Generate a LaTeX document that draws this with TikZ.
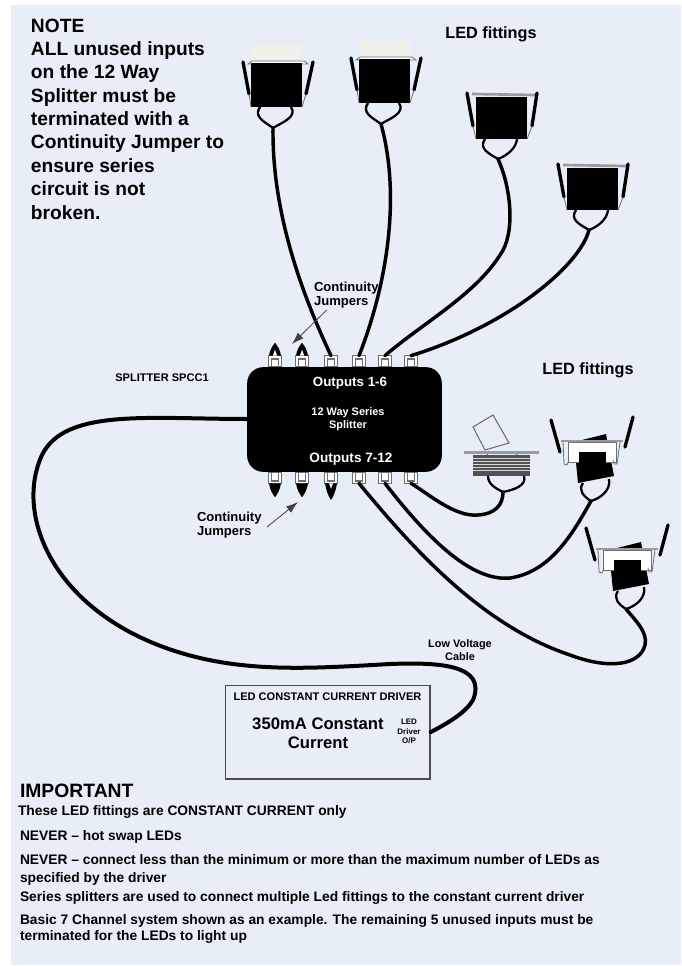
\documentclass[tikz,border=0pt]{standalone}
\usepackage{fontspec}
\setmainfont{Liberation Sans}
\usetikzlibrary{arrows.meta}
\definecolor{bgblue}{HTML}{E7EEF7}
\definecolor{portgray}{HTML}{6E6E6E}
\definecolor{creamtop}{HTML}{F1F1EC}
\definecolor{flangegray}{HTML}{9A9A9A}
\newcommand{\fsb}[2]{\fontsize{#1}{#2}\selectfont\bfseries}
\tikzset{
  x=0.75pt,y=-0.75pt,
  cable/.style={line width=2.6pt,black,line cap=round,line join=round},
  loopline/.style={line width=1.7pt,black},
  clip bar/.style={line width=2.5pt,black,line cap=round},
  thinline/.style={line width=0.6pt,portgray},
  flange/.style={line width=2pt,flangegray},
  portbox/.style={draw=portgray,fill=white,line width=0.9pt,minimum width=10pt,minimum height=8pt,inner sep=0pt,outer sep=0pt},
  label/.style={inner sep=0pt,outer sep=0pt,align=center,text=black},
  leftlabel/.style={inner sep=0pt,outer sep=0pt,align=left,text=black},
  note/.style={inner sep=0pt,outer sep=0pt,anchor=base west,text=black,font=\fsb{14.4}{14.4}},
  small/.style={inner sep=0pt,outer sep=0pt,anchor=base west,text=black,font=\fsb{10.35}{10.35}},
  thinarrow/.style={-{Latex[length=9pt,width=6pt]},line width=0.6pt,black!75},
  ledcream/.pic={
    \fill[creamtop] (-22,-83) rectangle (29,-68);
    \draw[thinline,fill=white] (-25,-64) -- (-21,-67) -- (31,-67) -- (35,-64) -- cycle;
    \fill[black] (-22,-65) rectangle (29,-21);
    \draw[clip bar] (-30,-66) -- (-24,-34);
    \draw[clip bar] (40,-66) -- (33,-34);
    \draw[thinline] (-24,-34) -- (-22,-21);
    \draw[thinline] (33,-34) -- (29,-21);
    \draw[loopline] (-13,-21) .. controls (-20,-11) and (-8,-6) .. (0,0);
    \draw[loopline] (18,-21) .. controls (25,-11) and (8,-5) .. (0,0);
  },
  ledplain/.pic={
    \draw[flange] (-26,-65) -- (37,-64);
    \fill[black] (-22,-62) rectangle (29,-20);
    \draw[clip bar] (-31,-66) -- (-25,-33);
    \draw[clip bar] (39,-66) -- (34,-33);
    \draw[thinline] (-25,-33) -- (-22,-20);
    \draw[thinline] (34,-33) -- (29,-20);
    \draw[loopline] (-13,-20) .. controls (-20,-10) and (-8,-5) .. (0,0);
    \draw[loopline] (19,-20) .. controls (18,-10) and (8,-3) .. (0,0);
  },
  ledtilt/.pic={
    \fill[black] (-17,-59) -- (15,-67) -- (23,-25) -- (-13,-18) -- cycle;
    \draw[thinline,fill=white] (-23,-59) rectangle (25,-39);
    \fill[black] (-12,-49) rectangle (15,-36);
    \draw[line width=1.6pt,flangegray] (-30,-60) -- (32,-60);
    \draw[thinline] (-28,-59) -- (-27,-37) -- (-24,-36) -- (-22,-41);
    \draw[thinline] (29,-59) -- (26,-37) -- (23,-37) -- (22,-41);
    \draw[clip bar] (-40,-81) -- (-31,-49);
    \draw[clip bar] (42,-84) -- (34,-54);
    \draw[loopline] (-8,-18) .. controls (-13,-11) and (-8,-5) .. (0,0);
    \draw[loopline] (18,-22) .. controls (20,-11) and (10,-3) .. (0,0);
  },
  ledslim/.pic={
    \draw[line width=0.8pt,portgray,fill=bgblue] (-30,-65) -- (-10,-77) -- (6,-49) -- (-18,-42) -- cycle;
    \draw[line width=0.8pt,portgray,fill=bgblue] (-16,-40) arc (180:0:15);
    \fill[black!68] (-30,-37) rectangle (27,-16);
    \foreach \dy in {-34,-31,-28,-25,-22}{\draw[white!70!gray,line width=0.5pt] (-30,\dy) -- (27,\dy);}
    \draw[line width=2.4pt,flangegray] (-39,-39.5) -- (36,-39.5);
    \draw[loopline] (-15,-16) .. controls (-15,-8) and (-8,-4) .. (0,0);
    \draw[loopline] (21,-16) .. controls (24,-6) and (10,-2) .. (0,0);
  }
}
\begin{document}
\begin{tikzpicture}
\useasboundingbox (0,0) rectangle (681,966);
\fill[white] (0,0) rectangle (681,966);
\fill[bgblue] (11,5) rectangle (681,965);

% junction coordinates of the fittings
\coordinate (j1) at (273,128);
\coordinate (j2) at (381,124);
\coordinate (j3) at (498,159);
\coordinate (j4) at (589,230);
\coordinate (j5) at (503,492);
\coordinate (j6) at (591,501);
\coordinate (j7) at (626,609);

% splitter ports
\foreach \n/\px in {1/275,2/302,3/331,4/359,5/385,6/411}{
  \node[portbox] (t\n) at (\px,361) {};
  \draw[line width=0.9pt,portgray] (\px-3.5,367) -- (\px-3.5,359) -- (\px+3.5,359) -- (\px+3.5,367);
}
\foreach \n/\px in {7/275,8/302,9/331,10/359,11/385,12/411}{
  \node[portbox] (b\n) at (\px,478) {};
  \draw[line width=0.9pt,portgray] (\px-3.5,472) -- (\px-3.5,481) -- (\px+3.5,481) -- (\px+3.5,472);
}
% jumpers
\foreach \n in {t1,t2}{
  \fill[black] ([xshift=-4.5pt]\n.north) .. controls +(1,-6) and +(-3,4) .. ([yshift=9.75pt]\n.north) .. controls +(3,4) and +(-1,-6) .. ([xshift=4.5pt]\n.north) -- cycle;
  \fill[white] ([xshift=-1.6pt]\n.north) -- ([yshift=4.5pt]\n.north) -- ([xshift=1.6pt]\n.north) -- cycle;
}
\foreach \n/\d in {b7/10.5,b8/10.5,b9/12.5}{
  \fill[black] ([xshift=-4.5pt]\n.south) .. controls +(1,6) and +(-3,-4) .. ([yshift=-\d pt]\n.south) .. controls +(3,-4) and +(-1,6) .. ([xshift=4.5pt]\n.south) -- cycle;
}
\fill[white] ([xshift=-1.5pt]b9.south) -- ([yshift=-4pt]b9.south) -- ([xshift=1.5pt]b9.south) -- cycle;

% fittings
\pic at (j1) {ledcream};
\pic at (j2) {ledcream};
\pic at (j3) {ledplain};
\pic at (j4) {ledplain};
\pic at (j5) {ledslim};
\pic at (j6) {ledtilt};
\pic at (j7) {ledtilt};

% splitter body
\node[fill=black,rounded corners=12pt,minimum width=146pt,minimum height=78.5pt,inner sep=0pt,outer sep=0pt] (body) at (344.5,419.5) {};
\node[label,text=white,font=\fsb{10}{10}] (o1) at (350,383) {Outputs 1-6};
\node[label,text=white,font=\fsb{8.2}{10.2}] (sp) at (348,419) {12 Way Series\\Splitter};
\node[label,text=white,font=\fsb{10.2}{10.2}] (o2) at (351,459) {Outputs 7-12};

% cables to the upper fittings
\draw[cable] (j1) .. controls (272,210) and (300,290) .. (t3.north);
\draw[cable] (j2) .. controls (402,200) and (385,290) .. (t4.north);
\draw[cable] (j3) .. controls (512,190) and (515,235) .. (500,255) .. controls (475,295) and (420,325) .. (t5.north);
\draw[cable] (j4) .. controls (580,265) and (510,325) .. (t6.north);
% cables to the lower fittings
\draw[cable] (b12.south) .. controls (430,495) and (455,517) .. (478,515) .. controls (495,514) and (503,505) .. (j5);
\draw[cable] (b11.south) .. controls (425,535) and (470,582) .. (510,578) .. controls (550,572) and (572,535) .. (j6);
\draw[cable] (b10.south) .. controls (410,545) and (480,625) .. (570,655) .. controls (610,670) and (640,665) .. (645,645) .. controls (648,632) and (635,620) .. (j7);

% driver
\node[draw=black!70,line width=1pt,minimum width=153.5pt,minimum height=70pt,inner sep=0pt] (drv) at (327.8,732.3) {};
\node[label,font=\fsb{8.3}{8.3}] (drvt) at (327.5,697) {LED CONSTANT CURRENT DRIVER};
\node[label,font=\fsb{12.5}{14.3}] (drvm) at (318,733.5) {350mA Constant\\Current};
\node[label,font=\fsb{6}{7}] (drvo) at (409,731.5) {LED\\Driver\\O/P};
\draw[cable,line width=3pt] (body.west|-0,419) .. controls (150,419) and (65,408) .. (42,455) .. controls (12,520) and (60,625) .. (200,658) .. controls (260,672) and (320,668) .. (390,664) .. controls (440,662) and (487,665) .. (473,700) .. controls (466,712) and (450,722) .. (drv.east|-0,732);

% labels
\node[note] (n1) at (31,33) {NOTE};
\node[note] (n2) at (31,56) {ALL unused inputs};
\node[note] (n3) at (31,79) {on the 12 Way};
\node[note] (n4) at (31,102.2) {Splitter must be};
\node[note] (n5) at (31,125.6) {terminated with a};
\node[note] (n6) at (31,149) {Continuity Jumper to};
\node[note] (n7) at (31,172.4) {ensure series};
\node[note] (n8) at (31,195.8) {circuit is not};
\node[note] (n9) at (31,219.2) {broken.};
\node[label,font=\fsb{12.2}{12.2}] (l1) at (491,34) {LED fittings};
\node[label,font=\fsb{12.2}{12.2}] (l2) at (588,370) {LED fittings};
\node[label,font=\fsb{8.3}{8.3}] (l3) at (162,378) {SPLITTER SPCC1};
\node[leftlabel,font=\fsb{9.8}{10.5},anchor=north west] (cj1) at (314,282) {Continuity\\Jumpers};
\node[leftlabel,font=\fsb{9.8}{10.5},anchor=north west] (cj2) at (197,512) {Continuity\\Jumpers};
\node[label,font=\fsb{8.2}{9.8}] (lv) at (460,650.5) {Low Voltage\\Cable};
\coordinate (a0) at (326.7,310);
\coordinate (a1) at (292,344);
\coordinate (b0) at (267,527);
\coordinate (a2) at (298,502);
\draw[thinarrow] (a0) -- (a1);
\draw[thinarrow] (b0) -- (a2);

\node[inner sep=0pt,outer sep=0pt,anchor=base west,text=black,font=\fsb{14.5}{14.5}] (i0) at (20,797) {IMPORTANT};
\node[small] (i1) at (18,815) {These LED fittings are CONSTANT CURRENT only};
\node[small] (i2) at (20,840) {NEVER -- hot swap LEDs};
\node[small] (i3) at (20,864) {NEVER -- connect less than the minimum or more than the maximum number of LEDs as};
\node[small] (i4) at (20,882) {specified by the driver};
\node[small] (i5) at (20,901) {Series splitters are used to connect multiple Led fittings to the constant current driver};
\node[small] (i6) at (20,924) {Basic 7 Channel system shown as an example. The remaining 5 unused inputs must be};
\node[small] (i7) at (20,940) {terminated for the LEDs to light up};
\end{tikzpicture}
\end{document}
